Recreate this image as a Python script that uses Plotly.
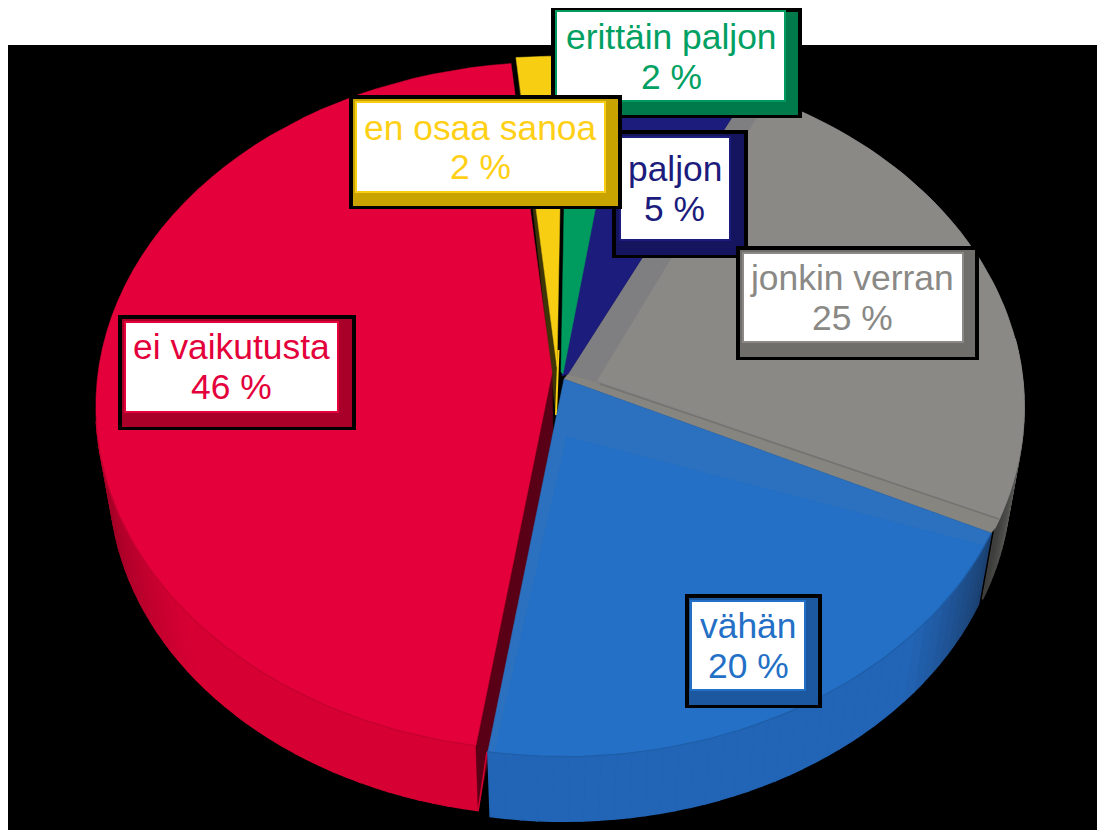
import math
import plotly.graph_objects as go

# ---- data ----
names = ["erittäin paljon", "paljon", "jonkin verran", "vähän", "ei vaikutusta", "en osaa sanoa"]
percent_labels = ["2 %", "5 %", "25 %", "20 %", "46 %", "2 %"]
values = [2.2, 4.7, 25.0, 20.3, 46.0, 1.8]
colors = ["#009C5F", "#1C1C7C", "#8A8986", "#2370C6", "#E4003A", "#F7CE12"]
text_colors = ["#00A062", "#1C1C7C", "#8A8986", "#2370C6", "#E4003A", "#FFD016"]
bevels = ["#007A4B", "#15155F", "#6F6E6B", "#1C58A0", "#A80028", "#C9A400"]

# ---- layout constants ----
W, H = 1097, 830
FIRST_ANGLE = 0.8
A, B, K = 454.0, 341.0, 0.097
SCALE_BOTTOM, DEPTH = 0.97, 76.0
apexes = [(561, 372), (562, 372), (568, 374), (564, 379), (552, 373), (557, 367)]
# outer black box x0,y0,x1,y1 ; white box x0,y0,x1,y1 ; text line centres x,y1,y2
label_outer = [(551, 8, 802, 118), (612, 130, 748, 258), (736, 246, 979, 360),
               (685, 594, 822, 708), (118, 315, 356, 430), (349, 95, 622, 209)]
label_white = [(557, 12, 784, 100), (621, 138, 729, 239), (744, 254, 962, 341),
               (692, 602, 804, 689), (126, 323, 337, 411), (357, 103, 604, 191)]
label_text = [(671, 37, 77), (674.5, 168.5, 208.5), (852, 278, 318),
              (748, 626, 666), (231, 347, 387), (480, 128, 167)]


def rim(apex, theta, s=1.0, dy=0.0):
    t = math.radians(theta)
    u, v = math.sin(t), -math.cos(t)
    f = 1 - K * v
    return apex[0] + s * A * u / f, apex[1] + dy + s * B * v / f


def arc(apex, a0, a1, s=1.0, dy=0.0, n=60):
    return [rim(apex, a0 + (a1 - a0) * i / n, s, dy) for i in range(n + 1)]


def mix(c1, c2, t):
    a = [int(c1[i:i + 2], 16) for i in (1, 3, 5)]
    b = [int(c2[i:i + 2], 16) for i in (1, 3, 5)]
    return "#%02x%02x%02x" % tuple(round(a[i] + (b[i] - a[i]) * t) for i in range(3))


fig = go.Figure()


def poly(points, color, width=0.5):
    fig.add_trace(go.Scatter(
        x=[p[0] for p in points] + [points[0][0]],
        y=[p[1] for p in points] + [points[0][1]],
        mode="lines", fill="toself", fillcolor=color,
        line=dict(color=color, width=width),
        hoverinfo="skip", showlegend=False))


def stroke(points, color, width=1.0):
    fig.add_trace(go.Scatter(
        x=[p[0] for p in points], y=[p[1] for p in points], mode="lines",
        line=dict(color=color, width=width), hoverinfo="skip", showlegend=False))


def wall(apex, a0, a1, c0, c1, n=30, knee=1.0):
    for i in range(n):
        t0 = a0 + (a1 - a0) * i / n
        t1 = a0 + (a1 - a0) * (i + 1) / n
        poly(arc(apex, t0, t1, n=3) + arc(apex, t1, t0, SCALE_BOTTOM, DEPTH, n=3),
             mix(c0, c1, min(1.0, (i + .5) / n / knee)), width=1.5)


# slice angles come from the values
total = sum(values)
angles = []
cur = FIRST_ANGLE
for val in values:
    angles.append((cur, cur + val / total * 360))
    cur += val / total * 360


def face(i):
    a0, a1 = angles[i]
    return [apexes[i]] + arc(apexes[i], a0, a1)


GREEN, NAVY, GRAY, BLUE, RED, YELLOW = range(6)

# gray slice
wall(apexes[GRAY], 84, angles[GRAY][1], "#9a9a96", "#3c3c3a")
g_apex = apexes[GRAY]
a0, a1 = angles[GRAY]
poly(face(GRAY), "#7f7f82")
poly([(597, 381)] + arc(g_apex, a0 + 3, a1 - 1.5), colors[GRAY])
band_end = rim(g_apex, a1 - 1.5)
poly([g_apex, (600, 384), band_end, rim(g_apex, a1), rim(apexes[BLUE], angles[BLUE][0]), apexes[BLUE]],
     "#86857f")
stroke([(600, 384), band_end], "#74736f", 1.5)

# navy and green
poly(face(NAVY) + [rim(g_apex, a0), g_apex, (562, 376)], colors[NAVY])
poly(face(GREEN) + [(563, 374)], colors[GREEN])

# yellow with its dark cut face
y_apex = apexes[YELLOW]
poly([y_apex, rim(y_apex, angles[YELLOW][0]), (556, 416)], "#3d3408")
poly([y_apex] + arc(y_apex, *angles[YELLOW]), colors[YELLOW])
stroke([(558.5, 350), (556, 415)], colors[YELLOW], 2)

# red
r_apex = apexes[RED]
r0, r1 = angles[RED]
wall(r_apex, 262, r0, "#8f0022", "#d60033", n=40, knee=0.45)
poly([r_apex, rim(r_apex, r0), rim(r_apex, r0, SCALE_BOTTOM, DEPTH), (553, 432)], "#5a0016")
stroke([rim(r_apex, r0, SCALE_BOTTOM, DEPTH), (487, 752)], "#d60033", 1.5)
poly(face(RED), colors[RED])
stroke(arc(r_apex, r0, 262), "#c30030", 1.2)

# blue
b_apex = apexes[BLUE]
b0, b1 = angles[BLUE]
wall(b_apex, b0, b1, "#1b3f6e", "#2264b5", n=40, knee=0.25)
poly(face(BLUE), "#2c71bf")
poly([(567, 437)] + arc(b_apex, b0 + 2.2, b1 - 0.8), colors[BLUE])
stroke(arc(b_apex, b0, b1), "#1f5da6", 1.2)

# page background and label boxes
shapes = [dict(type="rect", xref="x", yref="y", x0=8, y0=45, x1=W, y1=H,
               fillcolor="#000000", line_width=0, layer="below")]
annotations = []
for i in range(6):
    ox0, oy0, ox1, oy1 = label_outer[i]
    wx0, wy0, wx1, wy1 = label_white[i]
    shapes.append(dict(type="rect", xref="x", yref="y", x0=ox0, y0=oy0, x1=ox1, y1=oy1,
                       fillcolor="#000000", line_width=0, layer="above"))
    shapes.append(dict(type="rect", xref="x", yref="y", x0=ox0 + 4, y0=oy0 + 4, x1=ox1 - 4, y1=oy1 - 3,
                       fillcolor=bevels[i], line_width=0, layer="above"))
    shapes.append(dict(type="rect", xref="x", yref="y", x0=wx0 - 2, y0=wy0 - 2, x1=wx1 + 2, y1=wy1 + 2,
                       fillcolor=colors[i], line_width=0, layer="above"))
    shapes.append(dict(type="rect", xref="x", yref="y", x0=wx0, y0=wy0, x1=wx1, y1=wy1,
                       fillcolor="#ffffff", line_width=0, layer="above"))
    tx, ty1, ty2 = label_text[i]
    for txt, ty in ((names[i], ty1), (percent_labels[i], ty2)):
        annotations.append(dict(x=tx, y=ty, xref="x", yref="y", text=txt, showarrow=False,
                                xanchor="center", yanchor="middle",
                                font=dict(family="Liberation Sans, Arial, sans-serif",
                                          size=35.4, color=text_colors[i])))

fig.update_layout(
    width=W, height=H, margin=dict(l=0, r=0, t=0, b=0),
    paper_bgcolor="#ffffff", plot_bgcolor="#ffffff", showlegend=False,
    xaxis=dict(range=[0, W], visible=False, fixedrange=True),
    yaxis=dict(range=[H, 0], visible=False, fixedrange=True),
    shapes=shapes, annotations=annotations)

fig.write_html("out.html", config=dict(displayModeBar=False),
               post_script="document.body.style.margin='0';document.documentElement.style.overflow='hidden';")
